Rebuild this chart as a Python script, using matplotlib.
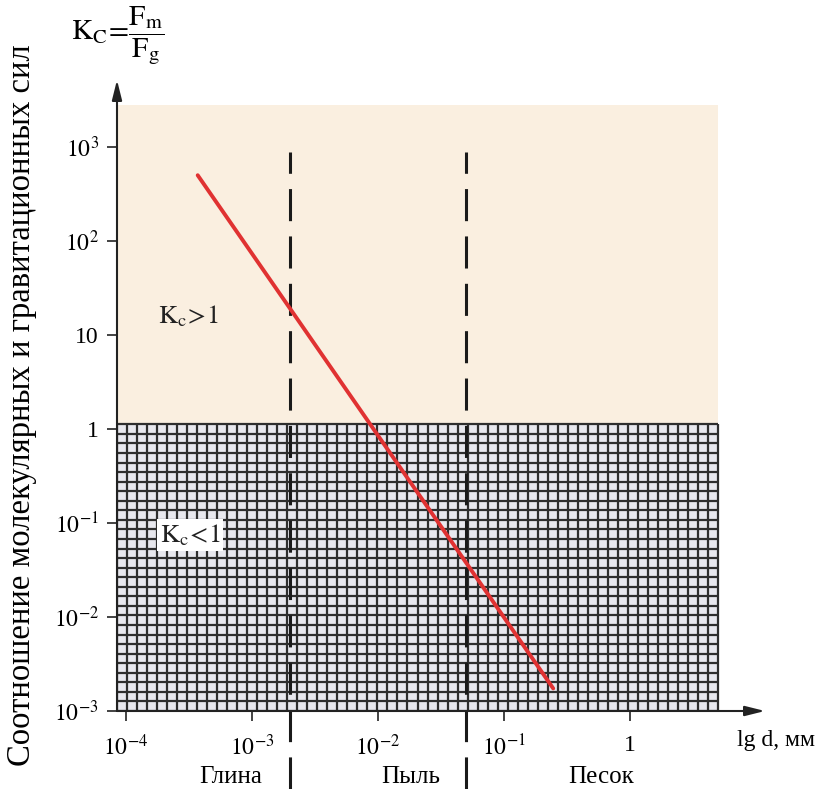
# -*- coding: utf-8 -*-

import matplotlib
matplotlib.use('Agg')
import matplotlib.pyplot as plt
import numpy as np

plt.rcParams['font.family'] = ['Liberation Serif', 'DejaVu Serif']
plt.rcParams['mathtext.fontset'] = 'stix'

# data
x_ticks = [1e-4, 1e-3, 1e-2, 1e-1, 1]
x_tick_labels = [r'$10^{-4}$', r'$10^{-3}$', r'$10^{-2}$', r'$10^{-1}$', '1']
y_ticks = [1e-3, 1e-2, 1e-1, 1, 10, 1e2, 1e3]
y_tick_labels = [r'$10^{-3}$', r'$10^{-2}$', r'$10^{-1}$', '1', '10',
                 r'$10^{2}$', r'$10^{3}$']
boundaries = [0.002, 0.05]          # глина / пыль / песок
soil_names = ['Глина', 'Пыль', 'Песок']
soil_x = [0.175, 0.454, 0.747]      # label positions (axes fraction)
line_d = [10**-3.43, 10**-0.61]
line_kc = [10**2.70, 10**-2.76]

fig = plt.figure(figsize=(8.22, 7.89), dpi=100)
ax = fig.add_axes([117/822, 1-711/789, 648/822, 631/789])
ax.set_xscale('log')
ax.set_yscale('log')
xlo, xhi = 10**-4.07, 10**1.07
ylo, yhi = 1e-3, 10**3.713
ax.set_xlim(xlo, xhi)
ax.set_ylim(ylo, yhi)

# right edge of shaded field
x_edge = 10**(np.log10(xlo) + 0.9275*(np.log10(xhi) - np.log10(xlo)))

# Kc > 1 field
ax.fill_between([xlo, x_edge], 1, 10**3.45, color='#faefe0', lw=0, zorder=0)
# Kc < 1 field with grid
ax.fill_between([xlo, x_edge], ylo, 10**0.05, color='#e8e8ee', lw=0, zorder=0)
gx = np.logspace(np.log10(xlo), np.log10(x_edge), 61)
gy = np.logspace(-3, 0.05, 31)
ax.vlines(gx, ylo, 10**0.05, colors='#2e2e2e', lw=1.6, zorder=1)
ax.hlines(gy, xlo, x_edge, colors='#2e2e2e', lw=1.6, zorder=1)

# boundaries
for b in boundaries:
    ax.plot([b, b], [-0.124, 0.886], color='#1a1a1a', lw=2.2,
            dashes=(10.5, 5), transform=ax.get_xaxis_transform(),
            clip_on=False, zorder=3)

# Kc line
ax.plot(line_d, line_kc, color='#e03232', lw=2.8, solid_capstyle='round', zorder=4)

# axes with arrows
for s in ax.spines.values():
    s.set_visible(False)
ax.annotate('', xy=(1.0, 0), xytext=(0, 0), xycoords='axes fraction',
            arrowprops=dict(arrowstyle='-|>,head_length=1.2,head_width=0.3',
                            color='#222222', lw=1.5, shrinkA=0, shrinkB=0))
ax.annotate('', xy=(0, 1.0), xytext=(0, 0), xycoords='axes fraction',
            arrowprops=dict(arrowstyle='-|>,head_length=1.2,head_width=0.3',
                            color='#222222', lw=1.5, shrinkA=0, shrinkB=0))

ax.set_xticks(x_ticks)
ax.set_xticklabels(x_tick_labels, fontsize=17)
ax.set_yticks(y_ticks)
ax.set_yticklabels(y_tick_labels, fontsize=17)
ax.minorticks_off()
ax.tick_params(axis='both', direction='out', length=7, width=1.2, color='#222222')
ax.tick_params(axis='x', pad=10)
ax.tick_params(axis='y', pad=6)

ax.text(0.110, 0.626, r'$\mathrm{K_c}\!>\!1$', transform=ax.transAxes,
        fontsize=19, ha='center', va='center', color='#222222')
ax.text(0.113, 0.279, r'$\mathrm{K_c}\!<\!1$', transform=ax.transAxes,
        fontsize=19, ha='center', va='center', color='#222222', zorder=5,
        bbox=dict(facecolor='white', edgecolor='none', pad=2))

for name, sx in zip(soil_names, soil_x):
    ax.text(sx, -0.105, name, transform=ax.transAxes, fontsize=18,
            ha='center', va='center')
ax.text(1.017, -0.046, 'lg d, мм', transform=ax.transAxes, fontsize=17,
        ha='center', va='center')

fig.text(22/822, 1-405/789, 'Соотношение молекулярных и гравитационных сил',
         rotation=90, fontsize=23.5, ha='center', va='center')
fig.text(118/822, 1-36/789,
         r'$\mathrm{K_C}\!=\!\dfrac{\mathrm{F_m}}{\mathrm{F_g}}$',
         fontsize=21, ha='center', va='center')

fig.savefig('out.png', dpi=100)
